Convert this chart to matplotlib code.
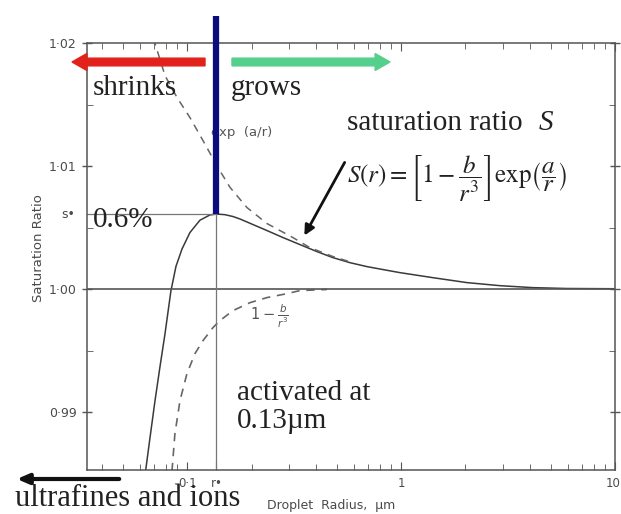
import matplotlib.pyplot as plt
from matplotlib.patches import FancyArrow, FancyArrowPatch
from matplotlib.ticker import FixedLocator, LogLocator, NullFormatter
from matplotlib.transforms import ScaledTranslation

# Köhler curve (radius in um, saturation ratio)
r_kohler = [0.0630, 0.0639, 0.0672, 0.0707, 0.0746, 0.0787, 0.0839, 0.0886, 0.0945,
            0.1030, 0.1147, 0.1278, 0.137, 0.1500, 0.1636, 0.1764, 0.1965, 0.2359,
            0.2802, 0.3364, 0.4040, 0.4797, 0.5760, 0.6917, 0.8217, 0.9865, 1.407,
            2.028, 2.893, 4.127, 5.95, 10.0]
s_kohler = [0.9840, 0.98524, 0.98810, 0.99093, 0.99370, 0.99635, 0.99985, 1.00185, 1.00325,
            1.00460, 1.00560, 1.00603, 1.0061, 1.00605, 1.00590, 1.00570, 1.00535, 1.00476,
            1.00419, 1.00362, 1.00305, 1.00256, 1.00215, 1.00183, 1.00159, 1.00134, 1.00093,
            1.00053, 1.00028, 1.00012, 1.00005, 1.00003]

# curvature term exp(a/r)
r_kelvin = [0.0680, 0.0707, 0.0787, 0.0896, 0.1030, 0.1185, 0.1392, 0.1586, 0.1902,
            0.2359, 0.3119, 0.3746, 0.4797, 0.5760]
s_kelvin = [1.0215, 1.01996, 1.01736, 1.01557, 1.01394, 1.01207, 1.00988, 1.00826, 1.00663,
            1.00533, 1.00419, 1.00337, 1.00265, 1.00222]

# solute term 1 - b/r^3
r_raoult = [0.0830, 0.0849, 0.0876, 0.0925, 0.0997, 0.1087, 0.1185, 0.1319, 0.1422,
            0.1636, 0.1965, 0.2359, 0.2924, 0.3364, 0.45]
s_raoult = [0.9840, 0.98524, 0.98825, 0.99093, 0.99313, 0.99476, 0.99581, 0.99687, 0.99744,
            0.99825, 0.99890, 0.99931, 0.99963, 0.99988, 0.99997]

r_star = 0.137
s_star = 1.0061

y_ticks = [0.99, 1.00, 1.01, 1.02]
y_labels = ['0·99', '1·00', '1·01', '1·02']
y_minor = [0.995, 1.005, 1.015]
x_ticks = [0.1, r_star, 1, 10]
x_labels = ['0·1', 'r\u2022', '1', '10']

W, H = 621, 514


def fx(x):
    return x / W


def fy(y):
    return 1 - y / H


plt.rcParams['mathtext.fontset'] = 'stix'

fig = plt.figure(figsize=(W / 100, H / 100), dpi=100)
ax = fig.add_axes([fx(87), fy(470), (615 - 87) / W, (470 - 43) / H])
ax.set_xscale('log')
ax.set_xlim(0.034, 10)
ax.set_ylim(0.9853, 1.02)

gray = '#4a4a4a'
for sp in ax.spines.values():
    sp.set_color('#555555')
    sp.set_linewidth(1.1)

# curves
ax.plot(r_kohler, s_kohler, color='#3a3a3a', lw=1.1)
ax.plot(r_kelvin, s_kelvin, color='#666666', lw=1.1, ls=(0, (5, 4)))
ax.plot(r_raoult, s_raoult, color='#666666', lw=1.2, ls=(0, (5, 4)))
ax.axhline(1.0, color='#555555', lw=1.2)

# critical point guides
ax.plot([r_star, r_star], [0.9853, s_star], color='#777777', lw=0.9)
ax.plot([0.034, r_star], [s_star, s_star], color='#777777', lw=0.9)
ax.plot([r_star, r_star], [s_star, 1.0222], color='#0c0c80', lw=4.5,
        clip_on=False, solid_capstyle='butt', zorder=5)

# ticks
ax.set_yticks(y_ticks, y_labels)
ax.yaxis.set_minor_locator(FixedLocator(y_minor))
ax.set_xticks(x_ticks, x_labels)
ax.xaxis.set_minor_locator(LogLocator(base=10, subs=range(2, 10)))
ax.xaxis.set_minor_formatter(NullFormatter())
ax.tick_params(axis='y', which='major', direction='inout', length=7, width=1,
               right=True, colors='#555555', labelcolor=gray, labelsize=9, pad=4)
ax.tick_params(axis='y', which='minor', direction='in', length=4, right=True,
               colors='#555555')
ax.tick_params(axis='x', which='both', direction='in', top=True, colors='#555555',
               labelcolor=gray, labelsize=8.5, pad=5)
ax.tick_params(axis='x', which='major', length=6)
ax.tick_params(axis='x', which='minor', length=4)
last = ax.get_xticklabels()[-1]
last.set_horizontalalignment('right')
last.set_transform(last.get_transform() + ScaledTranslation(4 / 72, 0, fig.dpi_scale_trans))

# s* tick label
ax.text(-0.022, s_star, 's\u2022', transform=ax.get_yaxis_transform(),
        ha='right', va='center', fontsize=9, color=gray)

ax.set_ylabel('Saturation Ratio', fontsize=9.5, color=gray)
ax.yaxis.set_label_coords((45 - 87) / 528, (470 - 248) / 427)
fig.text(fx(331), fy(506), 'Droplet  Radius,  \u00b5m', ha='center', va='center',
         fontsize=9, color=gray)

# small curve labels
ax.text(0.180, 1.0127, 'exp  (a/r)', fontsize=9.5, color='#555555', ha='center',
        va='center')
ax.text(0.197, 0.9978, r'$1-\frac{b}{r^3}$', fontsize=10.5, color='#555555', ha='left',
        va='center', math_fontfamily='dejavusans')

serif = ['Liberation Serif', 'DejaVu Serif']
txt = '#222222'

# shrink / grow arrows
fig.patches.append(FancyArrow(
    fx(205), fy(62), fx(72) - fx(205), 0, width=0.015, head_width=0.033,
    head_length=0.024, length_includes_head=True, color='#e3211b',
    transform=fig.transFigure, figure=fig))
fig.patches.append(FancyArrow(
    fx(232), fy(62), fx(390) - fx(232), 0, width=0.015, head_width=0.033,
    head_length=0.024, length_includes_head=True, color='#55cf8c',
    transform=fig.transFigure, figure=fig))
fig.text(fx(93), fy(88), 'shrinks', family=serif, fontsize=21, color=txt, va='center')
fig.text(fx(231), fy(88), 'grows', family=serif, fontsize=21, color=txt, va='center')

fig.text(fx(93), fy(220), '0.6%', family=serif, fontsize=21, color=txt, va='center')

fig.text(fx(347), fy(123), 'saturation ratio', family=serif, fontsize=21, color=txt,
         va='center')
fig.text(fx(539), fy(123), 'S', family=serif, style='italic', fontsize=21, color=txt,
         va='center')
fig.text(fx(347), fy(179),
         r'$S(r)=\left[1-\dfrac{b}{r^3}\right]\exp\!\left(\dfrac{a}{r}\right)$',
         fontsize=18, color=txt, va='center')
fig.add_artist(FancyArrowPatch(
    (fx(346), fy(160)), (fx(303), fy(238)), transform=fig.transFigure,
    arrowstyle='-|>,head_length=6,head_width=3', color='#111111', lw=2))

fig.text(fx(237), fy(407), 'activated at\n0.13\u00b5m', family=serif, fontsize=21,
         color=txt, va='center', linespacing=1.05)

# ultrafines arrow
fig.add_artist(FancyArrowPatch(
    (fx(122), fy(479)), (fx(14), fy(479)), transform=fig.transFigure,
    arrowstyle='-|>,head_length=7,head_width=3', color='#111111', lw=3))
fig.text(fx(15), fy(498), 'ultrafines and ions', family=serif, fontsize=22,
         color=txt, va='center')

fig.savefig('out.png', dpi=100)
